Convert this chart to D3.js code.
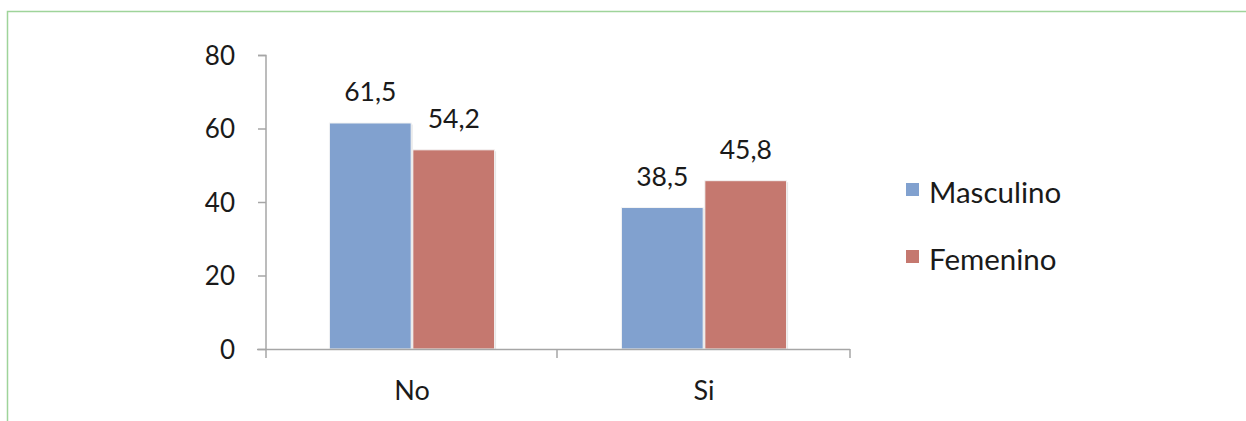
<!DOCTYPE html>
<html><head><meta charset="utf-8">
<script src="https://cdn.jsdelivr.net/npm/d3@7"></script>
<style>body{margin:0;background:#fff}svg{display:block}text{font-family:Lato,"Open Sans",sans-serif;fill:#1a1a1a}</style>
</head><body>
<svg id="c" width="1246" height="421"></svg>
<script>
const categories = ["No", "Si"];
const seriesNames = ["Masculino", "Femenino"];
const masculino = [61.5, 38.5];
const femenino = [54.2, 45.8];
const yTicks = [0, 20, 40, 60, 80];
const colors = ["#81A1CF", "#C5786F"];

const svg = d3.select("#c");
// green frame
svg.append("path").attr("d", "M7.5,421 V11.5 H1246").attr("fill","none").attr("stroke","#9fd49a").attr("stroke-width",1.5);

const x0 = d3.scaleBand().domain(categories).range([266, 850]).paddingInner(0).paddingOuter(0);
const x1 = d3.scaleBand().domain(seriesNames).range([0, x0.bandwidth()]).paddingOuter(0.76).paddingInner(0.02);
const y = d3.scaleLinear().domain([0, 80]).range([349, 55]);

const data = categories.map((c, i) => ({cat: c, vals: [masculino[i], femenino[i]]}));

// y axis
const ya = svg.append("g").attr("transform","translate(266,0)")
  .call(d3.axisLeft(y).tickValues(yTicks).tickSize(8).tickPadding(23).tickFormat(d3.format("d")));
ya.selectAll("path,line").attr("stroke","#a6a6a6").attr("stroke-width",1.5);
ya.select(".domain").attr("d","M-8,55.5H0V349");
ya.selectAll("text").attr("font-size",26).attr("dy","0.36em").attr("fill","#1a1a1a").style("font-family","Lato, 'Open Sans', sans-serif");

// bars
const g = svg.append("g");
data.forEach((d) => {
  seriesNames.forEach((s, j) => {
    const xx = x0(d.cat) + x1(s);
    g.append("rect").attr("x", xx+1.5).attr("y", y(d.vals[j])+1.5).attr("width", x1.bandwidth()).attr("height", y(0)-y(d.vals[j])-1.5)
      .attr("fill","#e6e6e6");
    g.append("rect").attr("x", xx).attr("y", y(d.vals[j])).attr("width", x1.bandwidth()).attr("height", y(0)-y(d.vals[j]))
      .attr("fill", colors[j]).attr("stroke","#f4f4f4").attr("stroke-width",1);
    g.append("text").attr("x", xx + x1.bandwidth()/2).attr("y", y(d.vals[j]) - 22)
      .attr("text-anchor","middle").attr("font-size",26.5).text(d3.format(".1f")(d.vals[j]).replace(".", ","));
  });
});

// x axis
const xa = svg.append("g").attr("transform","translate(0,349)");
xa.append("line").attr("x1",257).attr("x2",850).attr("y1",0.5).attr("y2",0.5).attr("stroke","#a6a6a6").attr("stroke-width",1.5);
[266, 557, 850].forEach(t => xa.append("line").attr("x1",t).attr("x2",t).attr("y1",0).attr("y2",9).attr("stroke","#a6a6a6").attr("stroke-width",1.5));
categories.forEach(c => xa.append("text").attr("x", x0(c)+x0.bandwidth()/2).attr("y", 51).attr("text-anchor","middle").attr("font-size",27).text(c));

// legend
const lg = svg.append("g");
seriesNames.forEach((s, i) => {
  const yy = 183 + i*67;
  lg.append("rect").attr("x",906).attr("y",yy).attr("width",13).attr("height",13).attr("fill",colors[i]);
  lg.append("text").attr("x",929).attr("y",yy+20).attr("font-size",29.5).text(s);
});
</script>
</body></html>
